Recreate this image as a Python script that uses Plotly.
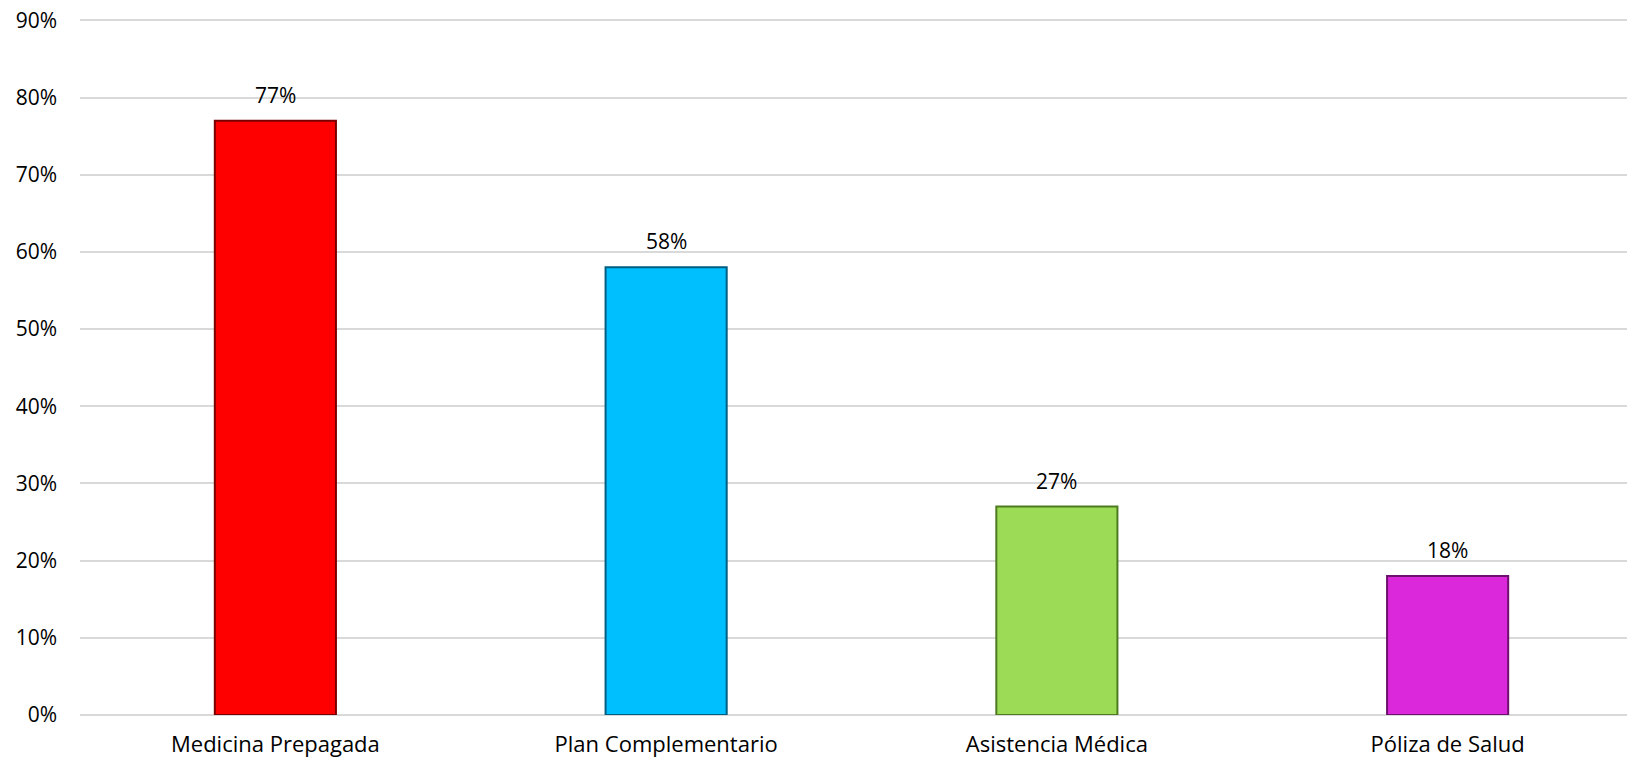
import plotly.graph_objects as go

categories = ["Medicina Prepagada", "Plan Complementario", "Asistencia Médica", "Póliza de Salud"]
values = [77, 58, 27, 18]
labels = ["77%", "58%", "27%", "18%"]
colors = ["#FE0000", "#00BFFE", "#9BDB55", "#DA28DA"]
edge_colors = ["#7A0000", "#005E80", "#4E7A20", "#6E106E"]
y_ticks = [0, 10, 20, 30, 40, 50, 60, 70, 80, 90]

FONT = "'Open Sans', Lato, sans-serif"

fig = go.Figure()
fig.add_trace(go.Bar(
    x=categories, y=values,
    marker=dict(color=colors, line=dict(color=edge_colors, width=2)),
    width=0.31,
    hoverinfo="skip",
))

for c, v, t in zip(categories, values, labels):
    fig.add_annotation(x=c, y=v, text=t, showarrow=False, yshift=26,
                       font=dict(size=21, color="#000000", family=FONT, weight=500))

fig.update_layout(
    width=1643, height=761,
    margin=dict(l=80, r=0, t=18, b=46),
    paper_bgcolor="white", plot_bgcolor="white",
    showlegend=False,
    font=dict(family=FONT, size=21, color="#000000", weight=500),
    xaxis=dict(showgrid=False, showline=False, ticks="", tickfont=dict(size=22, weight=500),
               ticklabelstandoff=14),
    yaxis=dict(range=[0, 90.3], tickvals=y_ticks, ticktext=[f"{t}%" for t in y_ticks],
               showgrid=True, gridcolor="#D9D9D9", gridwidth=1.5,
               zeroline=True, zerolinecolor="#D9D9D9", zerolinewidth=1.5,
               showline=False, ticks="", tickfont=dict(size=21, weight=500),
               ticklabelstandoff=22),
)

fig.write_html("out.html", config={"displayModeBar": False},
               post_script="document.body.style.margin='0';document.body.style.overflow='hidden';")
